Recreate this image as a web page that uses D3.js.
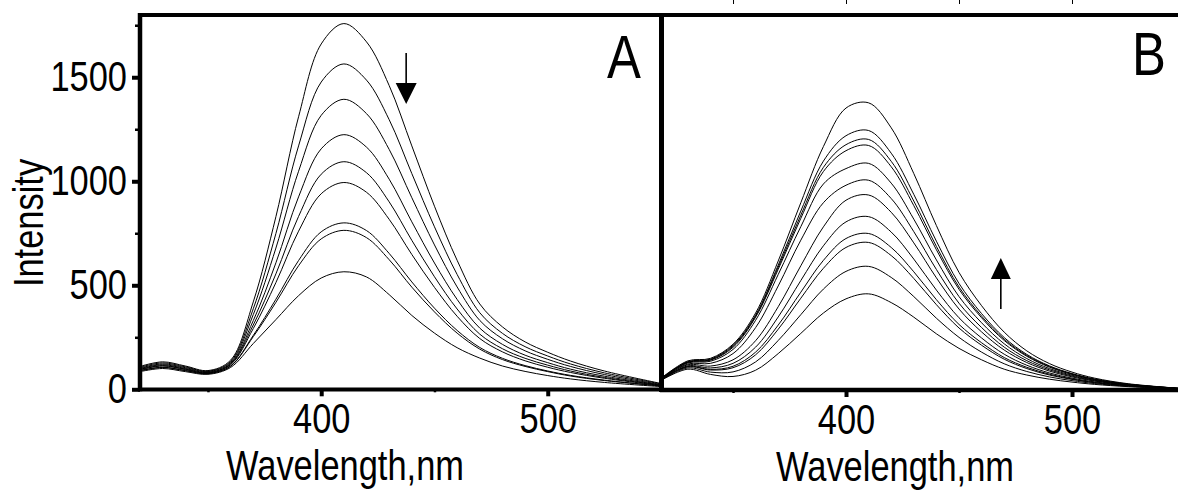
<!DOCTYPE html>
<html><head><meta charset="utf-8">
<script src="https://cdn.jsdelivr.net/npm/d3@7"></script>
<style>
html,body{margin:0;padding:0;background:#fff;}
svg{display:block;}
text{font-family:"Liberation Sans",Arial,sans-serif;fill:#000;}
</style></head>
<body>
<script>
// ---- data ----
const wavelengthsA = [320,330,340,350,360,370,380,390,400,410,420,430,440,450,460,470,480,490,500,510,525,550];
const wavelengthsB = [318,330,340,350,360,370,380,390,400,410,420,430,440,450,460,470,480,490,500,510,525,550];

// Panel A (intensity decreases, arrow down)
const A1 = [110,132,112,90,140,420,830,1310,1660,1758,1670,1460,1170,880,620,410,300,228,178,136,88,28];
const A2 = [106,127,108,87,134,387,749,1170,1477,1564,1486,1296,1037,781,552,368,269,205,160,122,79,26];
const A3 = [102,122,104,85,129,359,679,1048,1317,1394,1325,1153,921,694,492,331,243,185,144,110,71,23];
const A4 = [99,118,100,82,124,330,608,925,1156,1224,1164,1010,805,607,432,294,216,164,128,97,63,21];
const A5 = [96,114,97,80,121,309,555,831,1034,1094,1041,901,716,541,386,265,195,149,116,88,57,20];
const A6 = [94,112,95,78,118,292,513,760,940,994,947,817,648,490,351,244,180,137,106,81,53,18];
const A7 = [90,106,90,76,112,259,433,619,757,800,763,653,516,390,283,201,149,114,88,67,44,16];
const A8 = [89,105,90,75,111,253,418,594,723,764,729,623,491,372,270,193,143,110,85,64,42,16];
const A9 = [85,100,85,72,105,220,335,450,535,565,540,455,355,270,200,150,112,86,66,50,33,13];

// Panel B (intensity increases, arrow up)
const B1 = [55,140,152,220,370,620,900,1170,1355,1380,1260,1040,790,565,405,278,188,127,86,57,30,6];
const B2 = [54,136,148,215,360,600,860,1100,1222,1247,1138,940,715,512,367,252,171,116,79,53,28,6];
const B3 = [53,134,145,210,355,590,840,1070,1179,1204,1099,908,690,495,355,244,166,113,77,51,27,6];
const B4 = [53,133,143,205,350,580,825,1050,1150,1175,1073,886,674,484,347,238,162,110,75,50,27,6];
const B5 = [52,130,138,195,335,555,785,990,1064,1089,994,821,625,449,323,222,151,103,71,47,26,5];
const B6 = [51,125,128,175,300,500,720,900,984,1008,920,761,579,417,300,206,141,97,67,45,24,5];
const B7 = [50,121,115,145,237,400,597,784,912,937,854,707,539,389,279,192,132,91,63,43,23,5];
const B8 = [49,116,106,128,206,351,526,693,808,833,759,629,480,347,250,172,119,82,57,39,22,5];
const B9 = [48,113,99,114,182,312,470,623,728,752,685,568,434,315,227,156,109,76,53,36,20,5];
const B10 = [48,111,96,107,169,292,441,585,685,709,646,536,410,298,215,148,103,72,51,35,20,4];
const B11 = [46,106,86,87,135,238,362,485,570,594,541,449,345,253,182,126,89,63,45,31,18,4];
const B12 = [45,100,75,65,95,175,272,370,438,462,420,350,270,200,145,100,72,52,38,27,16,4];

const seriesA = [A1,A2,A3,A4,A5,A6,A7,A8,A9];
const seriesB = [B1,B2,B3,B4,B5,B6,B7,B8,B9,B10,B11,B12];

const yMajor = [0,500,1000,1500];
const yMinor = [250,750,1250,1750];
const xMajor = [400,500];
const xMinor = [350,450];
const topTicks = [350,400,450,500];
const xTitle = "Wavelength,nm";
const yTitle = "Intensity";
const panelLabels = ["A","B"];

// ---- layout ----
const W = 1178, H = 493;
const NARROW = 0.82;   // condensed look (Arial Narrow-like)
const FS = 42;
const svg = d3.select("body").append("svg").attr("width",W).attr("height",H);

const xA = d3.scaleLinear().domain([320,550]).range([140,661]);
const yA = d3.scaleLinear().domain([0,1804]).range([389.3,14]);
const xB = d3.scaleLinear().domain([318,550]).range([660.7,1185]);
const yB = d3.scaleLinear().domain([0,1804]).range([390,14.6]);

const defs = svg.append("defs");
defs.append("clipPath").attr("id","clipA").append("rect")
  .attr("x",140).attr("y",14).attr("width",661-140).attr("height",389.3-14);
defs.append("clipPath").attr("id","clipB").append("rect")
  .attr("x",660).attr("y",14).attr("width",W-660).attr("height",390-14);

function drawCurves(series, wl, x, y, clip){
  const line = d3.line().x((d,i)=>x(wl[i])).y(d=>y(d)).curve(d3.curveCatmullRom.alpha(0.5));
  svg.append("g").attr("clip-path",`url(#${clip})`)
    .selectAll("path").data(series).join("path")
    .attr("d",line).attr("fill","none").attr("stroke","#000").attr("stroke-width",1);
}
drawCurves(seriesA, wavelengthsA, xA, yA, "clipA");
drawCurves(seriesB, wavelengthsB, xB, yB, "clipB");

function styleAxis(g, w){
  g.select(".domain").remove();
  g.selectAll(".tick line").attr("stroke","#000").attr("stroke-width",w);
  g.selectAll(".tick text").each(function(){
    const t = d3.select(this);
    const x = +t.attr("x") || 0;
    t.attr("x",0).attr("transform",`translate(${x},0) scale(${NARROW},1)`)
     .attr("font-size",FS).attr("fill","#000")
     .style("font-family",'"Liberation Sans",Arial,sans-serif');
  });
}

// Panel A axes
const gyA = svg.append("g").attr("transform","translate(140,0)")
  .call(d3.axisLeft(yA).tickValues(yMajor).tickSize(8).tickPadding(5).tickFormat(d3.format("d")));
styleAxis(gyA,4);
const gyAm = svg.append("g").attr("transform","translate(140,0)")
  .call(d3.axisLeft(yA).tickValues(yMinor).tickSize(5).tickFormat(""));
styleAxis(gyAm,2.5);

const gxA = svg.append("g").attr("transform","translate(0,389.3)")
  .call(d3.axisBottom(xA).tickValues(xMajor).tickSize(7).tickPadding(7).tickFormat(d3.format("d")));
styleAxis(gxA,4);
const gxAm = svg.append("g").attr("transform","translate(0,389.3)")
  .call(d3.axisBottom(xA).tickValues(xMinor).tickSize(3).tickFormat(""));
styleAxis(gxAm,2.5);

// Panel B axes
const gxB = svg.append("g").attr("transform","translate(0,390)")
  .call(d3.axisBottom(xB).tickValues(xMajor).tickSize(7).tickPadding(7).tickFormat(d3.format("d")));
styleAxis(gxB,4);
const gxBm = svg.append("g").attr("transform","translate(0,390)")
  .call(d3.axisBottom(xB).tickValues(xMinor).tickSize(3).tickFormat(""));
styleAxis(gxBm,2.5);

// top ticks of the panel above (cropped)
const gTop = svg.append("g").attr("transform","translate(0,0)")
  .call(d3.axisBottom(xB).tickValues(topTicks).tickSize(4).tickFormat(""));
styleAxis(gTop,1);

// frames
const frame = svg.append("g").attr("stroke","#000").attr("fill","none");
frame.append("line").attr("x1",138).attr("x2",663).attr("y1",15).attr("y2",15).attr("stroke-width",4);
frame.append("line").attr("x1",140).attr("x2",140).attr("y1",13).attr("y2",391.3).attr("stroke-width",4.5);
frame.append("line").attr("x1",138).attr("x2",663).attr("y1",389.5).attr("y2",389.5).attr("stroke-width",4);
frame.append("line").attr("x1",661.5).attr("x2",661.5).attr("y1",13).attr("y2",392).attr("stroke-width",5);
frame.append("line").attr("x1",660).attr("x2",W).attr("y1",15).attr("y2",15).attr("stroke-width",4);
frame.append("line").attr("x1",660).attr("x2",W).attr("y1",390).attr("y2",390).attr("stroke-width",4.5);

// titles (condensed)
function narrowText(x, y, str, size, rotate){
  return svg.append("text")
    .attr("transform",`translate(${x},${y})${rotate?` rotate(${rotate})`:""} scale(${NARROW},1)`)
    .attr("text-anchor","middle").attr("font-size",size).text(str);
}
narrowText(345, 480, xTitle, FS);
narrowText(895, 481, xTitle, FS);
narrowText(43, 223, yTitle, FS, -90);

// panel labels
svg.append("text").attr("transform",`translate(641,78) scale(${NARROW},1)`)
  .attr("text-anchor","end").attr("font-size",62).text(panelLabels[0]);
svg.append("text").attr("transform",`translate(1166,75) scale(${NARROW},1)`)
  .attr("text-anchor","end").attr("font-size",62).text(panelLabels[1]);

// arrows
function arrow(x, yTail, yTip, headLen, headHalf){
  const dir = yTip > yTail ? 1 : -1;
  svg.append("line").attr("x1",x).attr("x2",x).attr("y1",yTail).attr("y2",yTip - dir*headLen)
    .attr("stroke","#000").attr("stroke-width",1.6);
  svg.append("path").attr("d",`M${x-headHalf},${yTip-dir*headLen} L${x+headHalf},${yTip-dir*headLen} L${x},${yTip} Z`)
    .attr("fill","#000");
}
arrow(xA(437.5), 53, 104, 21, 10.5);
arrow(xB(468.5), 309, 258, 21, 10);
</script>
</body></html>
